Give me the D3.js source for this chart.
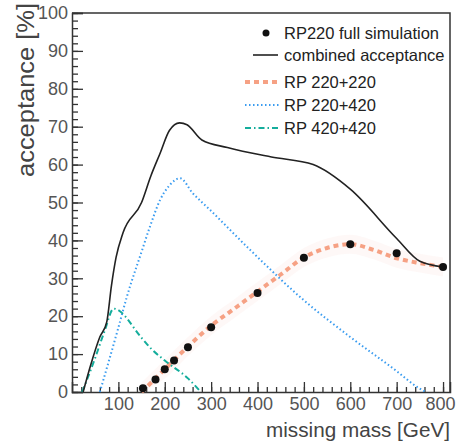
<!DOCTYPE html>
<html>
<head>
<meta charset="utf-8">
<script src="https://cdn.jsdelivr.net/npm/d3@7/dist/d3.min.js"></script>
<style>
  body { margin: 0; background: #fff; }
  text { font-family: "Liberation Sans", Arial, sans-serif; }
</style>
</head>
<body>
<div id="chart"></div>
<script>
// data (mass in GeV, acceptance in %)
var simMass = [153, 180, 200, 220, 250, 300, 400, 500, 600, 700, 800];
var simAcc = [1, 3.3, 6, 8.3, 11.8, 17.1, 26.1, 35.4, 39, 36.6, 33];

var combMass = [24, 40, 60, 75, 85, 95, 110, 150, 170, 190, 210, 232, 248, 280, 335, 430, 520, 600, 700, 750, 800];
var combAcc = [0, 7, 14.5, 18.5, 28, 35.5, 42, 50, 57, 63, 69, 71, 70.5, 66.5, 64.5, 62, 60, 53.5, 40.5, 34.5, 33];

var rp220Mass = [150, 200, 250, 300, 350, 400, 450, 500, 550, 600, 650, 700, 750, 800];
var rp220Acc = [0, 6, 12, 17.5, 22, 26.5, 31, 35.5, 38, 39, 37.5, 35.3, 34, 33];

var rp220420Mass = [60, 100, 118, 150, 168, 190, 210, 233, 260, 298, 384, 499, 600, 700, 743, 762];
var rp220420Acc = [0, 17, 25, 37, 43.6, 50.7, 54.5, 56.4, 52.5, 48, 37.5, 24.3, 14.5, 5.5, 1.4, 0];

var rp420Mass = [22, 50, 70, 90, 150, 170, 200, 250, 278];
var rp420Acc = [0, 9, 16, 22, 14.3, 11.5, 8.3, 3.6, 0];

var xTicks = [100, 200, 300, 400, 500, 600, 700, 800];
var yTicks = [0, 10, 20, 30, 40, 50, 60, 70, 80, 90, 100];
var legendLabels = ['RP220 full simulation', 'combined acceptance', 'RP 220+220', 'RP 220+420', 'RP 420+420'];

var width = 456, height = 445;
var plotLeft = 72, plotRight = 450, plotTop = 13, plotBottom = 392;

var svg = d3.select('#chart').append('svg')
  .attr('width', width)
  .attr('height', height);

var x = d3.scaleLinear().domain([0, 815]).range([plotLeft, plotRight]);
var y = d3.scaleLinear().domain([0, 100]).range([plotBottom, plotTop]);

function zip(ms, vs) {
  return ms.map(function (m, i) { return { m: m, v: vs[i] }; });
}

// frame (top and right)
svg.append('path')
  .attr('d', 'M' + plotLeft + ',' + plotTop + 'H' + plotRight + 'V' + plotBottom)
  .attr('fill', 'none')
  .attr('stroke', '#333')
  .attr('stroke-width', 1.5);

// y axis: minor then major
var yMinor = svg.append('g')
  .attr('transform', 'translate(' + plotLeft + ',0)')
  .call(d3.axisLeft(y).tickValues(d3.range(0, 101, 2)).tickSize(-6).tickFormat(''));
yMinor.select('.domain').remove();
var yAxis = svg.append('g')
  .attr('transform', 'translate(' + plotLeft + ',0)')
  .call(d3.axisLeft(y).tickValues(yTicks).tickSize(-11).tickPadding(4));

// x axis
var xMinor = svg.append('g')
  .attr('transform', 'translate(0,' + plotBottom + ')')
  .call(d3.axisBottom(x).tickValues(d3.range(20, 811, 20)).tickSize(-5).tickFormat(''));
xMinor.select('.domain').remove();
var xAxis = svg.append('g')
  .attr('transform', 'translate(0,' + plotBottom + ')')
  .call(d3.axisBottom(x).tickValues(xTicks).tickSize(-10).tickPadding(5));

svg.selectAll('.tick line').attr('stroke', '#333').attr('stroke-width', 1.3);
svg.selectAll('.domain').attr('stroke', '#333').attr('stroke-width', 1.5);
svg.selectAll('.tick text')
  .attr('fill', '#555')
  .style('font-size', '18px')
  .style('font-family', '"Liberation Sans", Arial, sans-serif');
// last label sits at the edge, nudge it in a little
xAxis.selectAll('.tick text').filter(function (d) { return d === 800; })
  .attr('dx', '-3px');

// axis titles
svg.append('text')
  .attr('transform', 'translate(34,3) rotate(-90)')
  .attr('text-anchor', 'end')
  .attr('fill', '#444')
  .attr('textLength', 174)
  .attr('lengthAdjust', 'spacingAndGlyphs')
  .style('font-size', '23px')
  .text('acceptance [%]');

svg.append('text')
  .attr('x', 450)
  .attr('y', 437)
  .attr('text-anchor', 'end')
  .attr('fill', '#444')
  .attr('textLength', 184)
  .attr('lengthAdjust', 'spacingAndGlyphs')
  .style('font-size', '20px')
  .text('missing mass [GeV]');

var line = d3.line()
  .x(function (d) { return x(d.m); })
  .y(function (d) { return y(d.v); })
  .curve(d3.curveMonotoneX);

// faint band around RP 220+220
var band = d3.area()
  .x(function (d) { return x(d.m); })
  .y0(function (d) { return y(Math.max(0, d.v - 2.5)); })
  .y1(function (d) { return y(d.v + 2.5); })
  .curve(d3.curveMonotoneX);

svg.append('path')
  .attr('d', band(zip(rp220Mass, rp220Acc)))
  .attr('fill', '#fbd3cc')
  .attr('opacity', 0.15);

// series
var series = [
  { m: rp220Mass, v: rp220Acc, color: '#f6a184', width: 4, dash: '5,4' },
  { m: rp220420Mass, v: rp220420Acc, color: '#3a9cf0', width: 2, dash: '1.5,2.5' },
  { m: rp420Mass, v: rp420Acc, color: '#14ad9c', width: 2, dash: '6,3,1.5,3' },
  { m: combMass, v: combAcc, color: '#222', width: 1.6, dash: null }
];

series.forEach(function (s) {
  svg.append('path')
    .attr('d', line(zip(s.m, s.v)))
    .attr('fill', 'none')
    .attr('stroke', s.color)
    .attr('stroke-width', s.width)
    .attr('stroke-dasharray', s.dash);
});

svg.selectAll('circle.sim')
  .data(zip(simMass, simAcc))
  .enter()
  .append('circle')
  .attr('class', 'sim')
  .attr('cx', function (d) { return x(d.m); })
  .attr('cy', function (d) { return y(d.v); })
  .attr('r', 4)
  .attr('fill', '#111');

// legend
var legendY = [33, 55, 82, 105, 128];
var legend = svg.append('g');
legend.selectAll('text')
  .data(legendLabels)
  .enter()
  .append('text')
  .attr('x', 284)
  .attr('y', function (d, i) { return legendY[i]; })
  .attr('dy', '0.35em')
  .attr('fill', '#222')
  .style('font-size', '16.5px')
  .text(function (d) { return d; });

legend.append('circle')
  .attr('cx', 266).attr('cy', legendY[0]).attr('r', 3.5).attr('fill', '#111');
legend.append('line')
  .attr('x1', 253).attr('x2', 278).attr('y1', legendY[1]).attr('y2', legendY[1])
  .attr('stroke', '#222').attr('stroke-width', 1.6);
series.slice(0, 3).forEach(function (s, i) {
  legend.append('line')
    .attr('x1', 245).attr('x2', 280)
    .attr('y1', legendY[i + 2]).attr('y2', legendY[i + 2])
    .attr('stroke', s.color)
    .attr('stroke-width', s.width)
    .attr('stroke-dasharray', s.dash);
});
</script>
</body>
</html>
